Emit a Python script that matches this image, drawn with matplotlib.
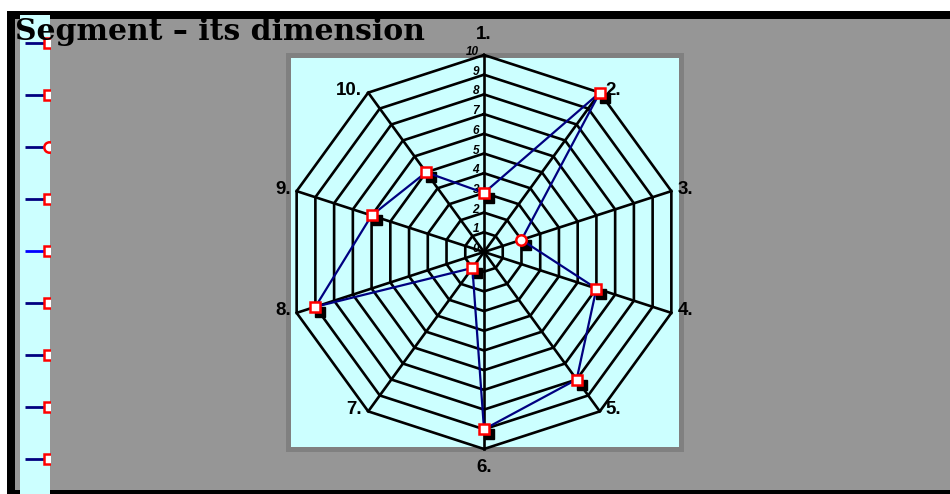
import numpy as np
import matplotlib
matplotlib.use('Agg')
import matplotlib.pyplot as plt
import matplotlib.transforms as mtransforms
from matplotlib.patches import Rectangle

# data
categories = ['1.', '2.', '3.', '4.', '5.', '6.', '7.', '8.', '9.', '10.']
values = [3, 10, 2, 6, 8, 9, 1, 9, 6, 5]
ring_ticks = list(range(0, 11))
legend_colors = ['#000080', '#000080', '#000080', '#000080', '#0000ff',
                 '#000080', '#000080', '#000080', '#000080']
legend_markers = ['s', 's', 'o', 's', 's', 's', 's', 's', 's']
title = 'Segment – its dimension'

W, H = 950, 494
fig = plt.figure(figsize=(W / 100, H / 100), dpi=100)
fig.patch.set_facecolor('white')

# background (pixel coords)
bg = fig.add_axes([0, 0, 1, 1])
bg.set_xlim(0, W)
bg.set_ylim(H, 0)
bg.axis('off')
bg.add_patch(Rectangle((7, 11), W, H, facecolor='black', edgecolor='none'))
bg.add_patch(Rectangle((15, 19), W, 471, facecolor='#969696', edgecolor='none'))
bg.add_patch(Rectangle((287.5, 55.5), 393, 393, facecolor='#ccffff',
                       edgecolor='#808080', linewidth=3.6))

# legend strip (cut off)
lg = fig.add_axes([20 / W, 0, 30 / W, 1 - 15 / H])
lg.set_xlim(0, 30)
lg.set_ylim(479, 0)
lg.axis('off')
lg.add_patch(Rectangle((0, 0), 30, 479, facecolor='#ccffff', edgecolor='none'))
for i, (c, m) in enumerate(zip(legend_colors, legend_markers)):
    y = 28 + 52 * i
    lg.plot([5, 26], [y, y], color=c, lw=2, solid_capstyle='butt')
    lg.plot([28.5], [y], marker=m, ms=7.5, mfc='white', mec='red', mew=1.8,
            clip_on=True)

# radar
cx, cy, R = 484, 252, 197
ax = fig.add_axes([(cx - R) / W, 1 - (cy + R) / H, 2 * R / W, 2 * R / H],
                  projection='polar')
ax.set_theta_offset(np.pi / 2)
ax.set_theta_direction(-1)
ax.set_ylim(0, 10)
ax.axis('off')
ax.patch.set_alpha(0)

n = len(categories)
theta = np.arange(n) * 2 * np.pi / n
theta_c = np.append(theta, theta[0])

for k in ring_ticks[1:]:
    ax.plot(theta_c, [k] * (n + 1), color='black', lw=1.9, clip_on=False)
for t in theta:
    ax.plot([t, t], [0, 10], color='black', lw=1.9, clip_on=False)

for k in ring_ticks:
    ax.annotate(str(k), (0, k), xytext=(-5, 3), textcoords='offset pixels',
                ha='right', va='center', fontsize=8.5, fontstyle='italic',
                fontweight='bold', family='Liberation Sans')

for t, lab in zip(theta, categories):
    s = np.sin(t)
    if abs(s) < 1e-6:
        up = np.cos(t) > 0
        ax.annotate(lab, (t, 10), xytext=(0, 12 if up else -10),
                    textcoords='offset pixels', ha='center',
                    va='bottom' if up else 'top', fontsize=13.5,
                    fontweight='bold', family='Liberation Sans')
    else:
        ax.annotate(lab, (t, 10), xytext=(6 if s > 0 else -6, 2),
                    textcoords='offset pixels', ha='left' if s > 0 else 'right',
                    va='center', fontsize=13.5, fontweight='bold',
                    family='Liberation Sans')

vals_c = values + values[:1]
shadow = mtransforms.offset_copy(ax.transData, fig=fig, x=5, y=-5, units='dots')
ax.plot(theta, values, ls='none', marker='s', ms=7.5, color='black',
        transform=shadow, clip_on=False, zorder=4)
ax.plot(theta_c, vals_c, color='#000080', lw=1.6, clip_on=False, zorder=5)
for i, (t, v) in enumerate(zip(theta, values)):
    ax.plot([t], [v], ls='none', marker='o' if i == 2 else 's', ms=7.5,
            mfc='white', mec='red', mew=1.8, clip_on=False, zorder=6)

fig.text(15 / W, 1 - 32 / H, title, ha='left', va='center', fontsize=21.5,
         fontweight='bold', family='DejaVu Serif', zorder=10)

fig.savefig('out.png', dpi=100)
